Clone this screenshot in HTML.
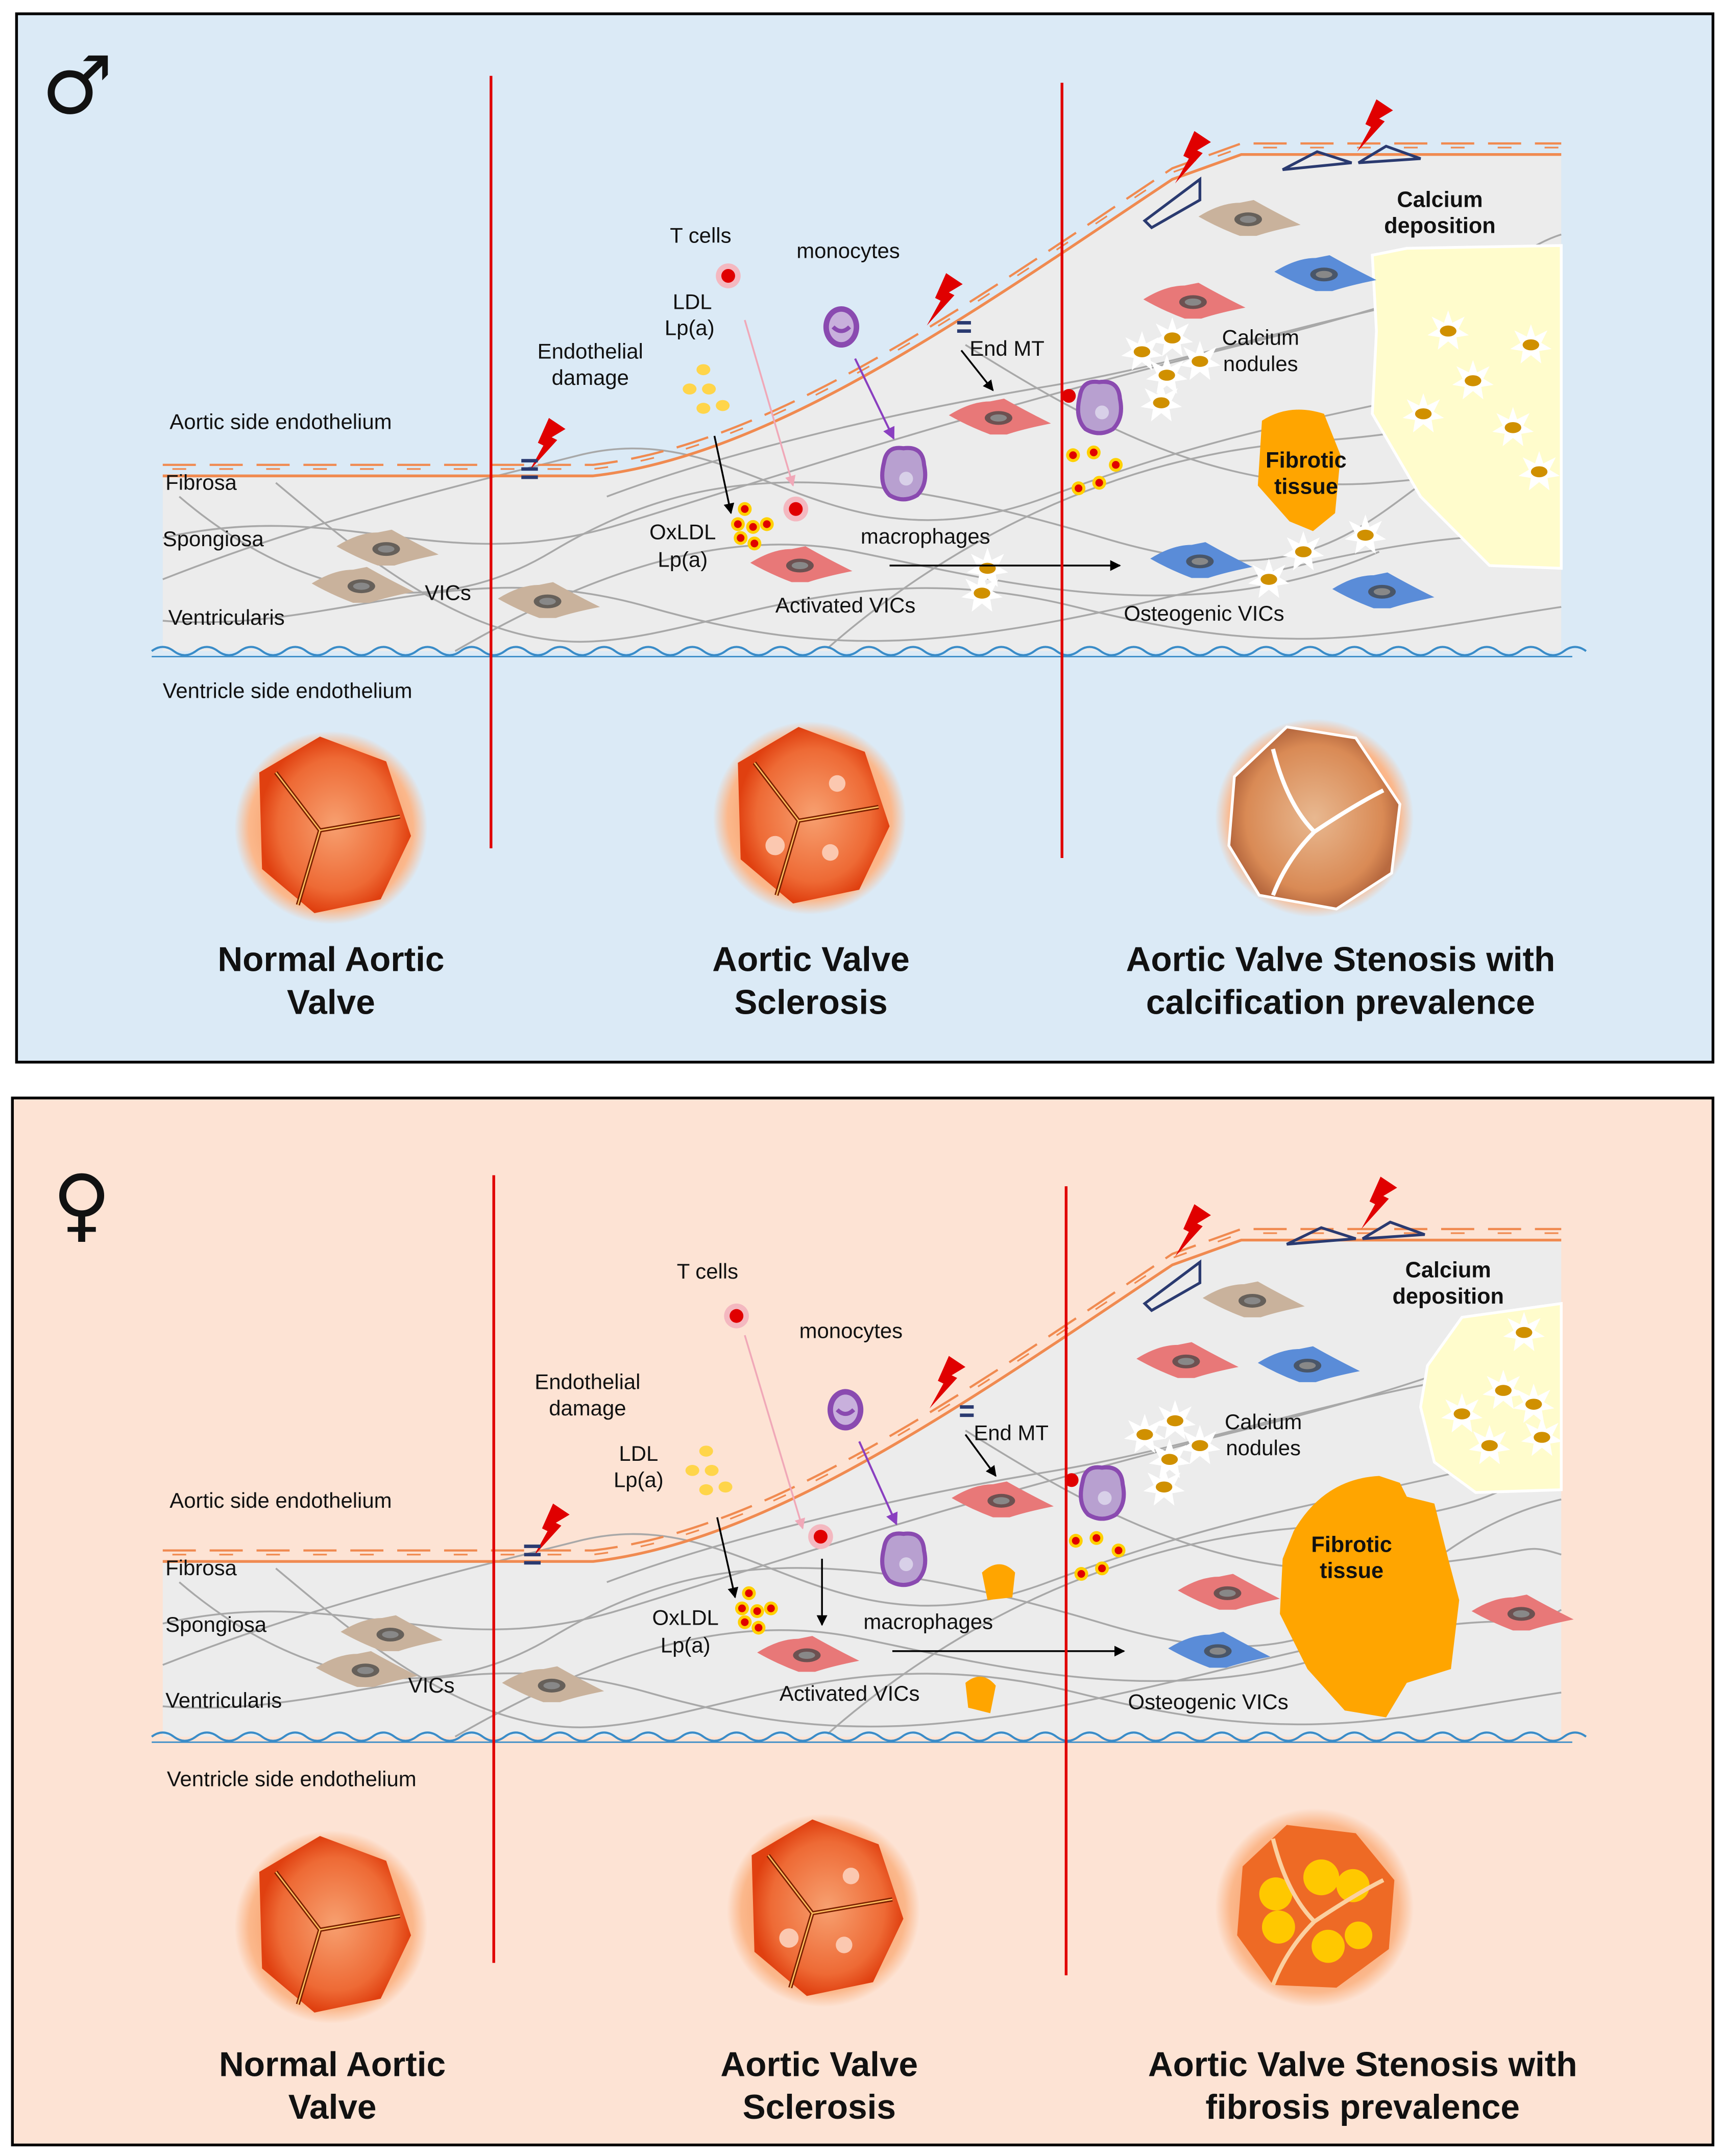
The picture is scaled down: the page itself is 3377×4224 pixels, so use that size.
<!DOCTYPE html>
<html><head><meta charset="utf-8"><style>
html,body{margin:0;padding:0;background:#fff;overflow:hidden;width:3377px;height:4224px}
svg{display:block}
text{font-family:"Liberation Sans",sans-serif;fill:#111}
.t{font-size:15.5px}
.b{font-size:16px;font-weight:bold}
.h{font-size:25px;font-weight:bold;text-anchor:middle}
.m{text-anchor:middle}
</style></head><body>
<svg width="3377" height="4224" viewBox="0 0 1250 1563" preserveAspectRatio="none" xmlns="http://www.w3.org/2000/svg">
<defs>
<radialGradient id="glow"><stop offset="0.6" stop-color="#f9a36f"/><stop offset="0.85" stop-color="#fbb88c"/><stop offset="1" stop-color="#fbb88c" stop-opacity="0"/></radialGradient>
<radialGradient id="vv"><stop offset="0" stop-color="#f7a070"/><stop offset="0.75" stop-color="#ee6a35"/><stop offset="1" stop-color="#e04010"/></radialGradient>
<radialGradient id="vs"><stop offset="0" stop-color="#e8b890"/><stop offset="0.8" stop-color="#d98a55"/><stop offset="1" stop-color="#b86a40"/></radialGradient>
<symbol id="cell" viewBox="-40 -14 80 28" overflow="visible"><path d="M-36,-2 Q-20,-12 -6,-12 L4,-14 Q18,-6 38,4 Q18,8 6,12 L-6,12 Q-22,6 -36,-2 Z"/><ellipse cx="0" cy="0" rx="10" ry="5" fill="#444" opacity="0.75"/><ellipse cx="0" cy="0" rx="6" ry="2.6" fill="#888"/></symbol>
<g id="tissue">
<path d="M118,345 L430,345 C560,330 700,230 850,130 L900,112 L1132,112 L1132,472 L118,472 Z" fill="#ececec"/>
<g fill="none" stroke="#a8a8a8" stroke-width="1.3">
<path d="M118,390 C250,360 320,420 450,380 S700,300 900,250 S1100,180 1132,170"/>
<path d="M118,420 C220,380 300,360 420,330 S600,420 760,360 S1000,300 1132,260"/>
<path d="M130,360 C200,420 300,460 400,400 S600,330 800,390 S1000,330 1132,300"/>
<path d="M118,450 C240,460 330,400 470,440 S700,470 900,420 S1100,400 1132,380"/>
<path d="M200,350 C260,400 340,470 430,465 S620,400 780,440 S1000,460 1132,440"/>
<path d="M440,360 C520,330 640,300 760,280 S980,220 1132,200"/>
<path d="M600,470 C680,400 800,330 950,320 S1100,280 1132,270"/>
<path d="M330,472 C420,420 520,380 620,400 S860,460 1000,400"/>
<path d="M700,250 C780,300 880,360 1000,350 S1100,330 1132,340"/>
</g>
<path d="M118,345 L430,345 C560,330 700,230 850,130 L900,112 L1132,112" fill="none" stroke="#f08a50" stroke-width="2"/>
<path d="M118,337 L430,337 C560,322 700,222 850,122 L900,104 L1132,104" fill="none" stroke="#f08a50" stroke-width="1.6" stroke-dasharray="24 10"/>
<path d="M118,340 L430,340 C560,325 700,225 850,125 L900,107 L1132,107" fill="none" stroke="#f08a50" stroke-width="1.2" stroke-dasharray="10 24" stroke-dashoffset="-7"/>
<path d="M110,472 q8,-6 16,0 t16,0 t16,0 t16,0 t16,0 t16,0 t16,0 t16,0 t16,0 t16,0 t16,0 t16,0 t16,0 t16,0 t16,0 t16,0 t16,0 t16,0 t16,0 t16,0 t16,0 t16,0 t16,0 t16,0 t16,0 t16,0 t16,0 t16,0 t16,0 t16,0 t16,0 t16,0 t16,0 t16,0 t16,0 t16,0 t16,0 t16,0 t16,0 t16,0 t16,0 t16,0 t16,0 t16,0 t16,0 t16,0 t16,0 t16,0 t16,0 t16,0 t16,0 t16,0 t16,0 t16,0 t16,0 t16,0 t16,0 t16,0 t16,0 t16,0 t16,0 t16,0 t16,0 t16,0 t16,0" fill="none" stroke="#3a8cc8" stroke-width="1.5"/>
<path d="M110,476 L1140,476" stroke="#3a8cc8" stroke-width="1"/>
</g>
<symbol id="bolt" viewBox="0 0 30 40" overflow="visible"><path d="M18,0 L30,8 L20,14 L24,16 L4,38 L14,20 L10,18 Z" fill="#e00000"/></symbol>
<g id="star"><path transform="scale(1.5)" d="M0,-10 L2,-4 L8,-7 L5,-1 L10,2 L4,3 L5,9 L0,5 L-5,9 L-4,3 L-10,2 L-5,-1 L-8,-7 L-2,-4 Z" fill="#fff"/><ellipse rx="6" ry="4" fill="#d09000"/></g>
<marker id="ah" viewBox="0 0 10 10" refX="9" refY="5" markerWidth="6" markerHeight="6" orient="auto"><path d="M0,0 L10,5 L0,10 Z" fill="#000"/></marker>
<marker id="ap" viewBox="0 0 10 10" refX="9" refY="5" markerWidth="6" markerHeight="6" orient="auto"><path d="M0,0 L10,5 L0,10 Z" fill="#8a3fc0"/></marker>
<marker id="ak" viewBox="0 0 10 10" refX="9" refY="5" markerWidth="6" markerHeight="6" orient="auto"><path d="M0,0 L10,5 L0,10 Z" fill="#f0a8b8"/></marker>
<g id="valveN"><circle r="70" fill="url(#glow)"/><path d="M-52,-40 L-8,-66 L40,-48 L58,6 L36,52 L-12,62 L-50,30 Z" fill="url(#vv)"/><path d="M-40,-40 L-8,2 L50,-8 M-8,2 L-24,56" stroke="#7a2000" stroke-width="3" fill="none"/><path d="M-40,-40 L-8,2 L50,-8 M-8,2 L-24,56" stroke="#ffc060" stroke-width="1" fill="none"/></g>
<g id="lipo"><circle r="5" fill="#ffd000"/><circle r="2.8" fill="#e00000"/></g>
<g id="mono"><ellipse rx="13" ry="15" fill="#8a4ab0"/><ellipse rx="9" ry="11" fill="#c8b0dc"/><path d="M-6,0 q6,6 12,0" stroke="#8a4ab0" stroke-width="3" fill="none"/></g>
<g id="macro"><path d="M-14,-8 Q-12,-20 0,-18 Q14,-20 15,-6 Q18,8 10,16 Q0,22 -10,16 Q-18,8 -14,-8Z" fill="#b8a0d0" stroke="#8a4ab0" stroke-width="3"/><circle cx="2" cy="4" r="5" fill="#d8d0e8"/></g>
<g id="tcell"><circle r="9" fill="#f4b8c0"/><circle r="5" fill="#e00000"/></g>
<g id="ldl"><ellipse cx="0" cy="0" rx="5" ry="4" fill="#ffd54a"/><ellipse cx="-10" cy="14" rx="5" ry="4" fill="#ffd54a"/><ellipse cx="4" cy="14" rx="5" ry="4" fill="#ffd54a"/><ellipse cx="0" cy="28" rx="5" ry="4" fill="#ffd54a"/><ellipse cx="14" cy="26" rx="5" ry="4" fill="#ffd54a"/></g>
</defs>

<!-- TOP PANEL -->
<rect x="12" y="10" width="1230" height="760" fill="#dbeaf6" stroke="#000" stroke-width="2"/>
<text x="30" y="82" style="font-size:58px;font-family:'DejaVu Sans',sans-serif">♂</text>
<use href="#tissue"/>
<path d="M995,185 L1020,180 L1132,178 L1132,412 L1080,410 L1030,360 L995,300 L998,240 Z" fill="#fffccc" stroke="#fff" stroke-width="2"/>
<use href="#star" x="1050" y="240"/><use href="#star" x="1110" y="250"/><use href="#star" x="1068" y="276"/><use href="#star" x="1032" y="300"/><use href="#star" x="1097" y="310"/><use href="#star" x="1116" y="342"/>
<path d="M915,305 Q935,292 960,300 L972,330 L968,372 L952,385 L935,378 L912,352 Z" fill="#ffa500"/>
<text class="b m" x="947" y="339">Fibrotic</text><text class="b m" x="947" y="358">tissue</text>
<use href="#star" x="828" y="255"/><use href="#star" x="850" y="245"/><use href="#star" x="846" y="272"/><use href="#star" x="842" y="292"/><use href="#star" x="870" y="262"/><use href="#star" x="716" y="412"/><use href="#star" x="712" y="430"/><use href="#star" x="945" y="400"/><use href="#star" x="990" y="388"/><use href="#star" x="920" y="420"/>
<use href="#cell" x="240" y="384" width="80" height="28" fill="#c9b29c"/>
<use href="#cell" x="222" y="411" width="80" height="28" fill="#c9b29c"/>
<use href="#cell" x="357" y="422" width="80" height="28" fill="#c9b29c"/>
<use href="#cell" x="865" y="145" width="80" height="28" fill="#c9b29c"/>
<use href="#cell" x="540" y="396" width="80" height="28" fill="#e87878"/>
<use href="#cell" x="684" y="289" width="80" height="28" fill="#e87878"/>
<use href="#cell" x="825" y="205" width="80" height="28" fill="#e87878"/>
<use href="#cell" x="920" y="185" width="80" height="28" fill="#5a8cd8"/>
<use href="#cell" x="830" y="393" width="80" height="28" fill="#5a8cd8"/>
<use href="#cell" x="962" y="415" width="80" height="28" fill="#5a8cd8"/>
<use href="#bolt" x="380" y="303" width="30" height="40"/>
<use href="#bolt" x="668" y="198" width="30" height="40"/>
<use href="#bolt" x="848" y="95" width="30" height="40"/>
<use href="#bolt" x="980" y="72" width="30" height="40"/>
<path d="M378,334 h12 M378,340 h12 M378,346 h12 M694,234 h10 M694,240 h10" stroke="#2a3a70" stroke-width="2.5"/>
<path d="M830,160 L870,130 L870,145 L835,165 Z M930,123 L955,110 L980,118 Z M985,118 L1005,106 L1030,115 Z" fill="none" stroke="#2a3a70" stroke-width="2"/>
<use href="#tcell" x="528" y="200"/><use href="#tcell" x="577" y="369"/>
<use href="#ldl" x="510" y="268"/>
<use href="#mono" x="610" y="237"/>
<use href="#macro" x="655" y="343"/><use href="#macro" x="797" y="295"/>
<circle cx="775" cy="287" r="5" fill="#e00000"/>
<use href="#lipo" x="540" y="369"/><use href="#lipo" x="535" y="380"/><use href="#lipo" x="546" y="382"/><use href="#lipo" x="556" y="380"/><use href="#lipo" x="537" y="390"/><use href="#lipo" x="547" y="394"/>
<use href="#lipo" x="778" y="330"/><use href="#lipo" x="793" y="328"/><use href="#lipo" x="809" y="337"/><use href="#lipo" x="782" y="354"/><use href="#lipo" x="797" y="350"/>
<path d="M518,316 L530,372" stroke="#000" stroke-width="1.3" marker-end="url(#ah)"/>
<path d="M540,232 L575,352" stroke="#f0a8b8" stroke-width="1.3" marker-end="url(#ak)"/>
<path d="M620,260 L648,318" stroke="#8a3fc0" stroke-width="1.5" marker-end="url(#ap)"/>
<path d="M697,254 L720,283" stroke="#000" stroke-width="1.3" marker-end="url(#ah)"/>
<path d="M645,410 L812,410" stroke="#000" stroke-width="1.3" marker-end="url(#ah)"/>
<text class="t" x="123" y="311">Aortic side endothelium</text>
<text class="t" x="120" y="355">Fibrosa</text>
<text class="t" x="118" y="396">Spongiosa</text>
<text class="t" x="122" y="453">Ventricularis</text>
<text class="t" x="308" y="435">VICs</text>
<text class="t" x="118" y="506">Ventricle side endothelium</text>
<text class="t m" x="428" y="260">Endothelial</text><text class="t m" x="428" y="279">damage</text>
<text class="t m" x="508" y="176">T cells</text>
<text class="t m" x="502" y="224">LDL</text><text class="t m" x="500" y="243">Lp(a)</text>
<text class="t m" x="615" y="187">monocytes</text>
<text class="t" x="703" y="258">End MT</text>
<text class="b m" x="1044" y="150">Calcium</text><text class="b m" x="1044" y="169">deposition</text>
<text class="t m" x="914" y="250">Calcium</text><text class="t m" x="914" y="269">nodules</text>
<text class="t m" x="495" y="391">OxLDL</text><text class="t m" x="495" y="411">Lp(a)</text>
<text class="t m" x="671" y="394">macrophages</text>
<text class="t m" x="613" y="444">Activated VICs</text>
<text class="t m" x="873" y="450">Osteogenic VICs</text>
<line x1="356" y1="55" x2="356" y2="615" stroke="#e00000" stroke-width="2"/>
<line x1="770" y1="60" x2="770" y2="622" stroke="#e00000" stroke-width="2"/>
<use href="#valveN" transform="translate(240,600)"/>
<g transform="translate(587,593)"><use href="#valveN"/><circle cx="20" cy="-25" r="6" fill="#fbc8b0"/><circle cx="-25" cy="20" r="7" fill="#fbc8b0"/><circle cx="15" cy="25" r="6" fill="#fbc8b0"/></g>
<g transform="translate(953,593)"><circle r="72" fill="url(#glow)"/><path d="M-58,-30 L-20,-66 L30,-58 L62,-10 L56,40 L16,66 L-40,56 L-62,20 Z" fill="url(#vs)" stroke="#fff" stroke-width="2"/><path d="M-30,-50 Q-20,-10 0,10 Q30,-10 50,-20 M0,10 Q-20,30 -30,56" stroke="#fff" stroke-width="3" fill="none"/></g>
<text class="h" x="240" y="704">Normal Aortic</text><text class="h" x="240" y="735">Valve</text>
<text class="h" x="588" y="704">Aortic Valve</text><text class="h" x="588" y="735">Sclerosis</text>
<text class="h" x="972" y="704">Aortic Valve Stenosis with</text><text class="h" x="972" y="735">calcification prevalence</text>

<!-- BOTTOM PANEL -->
<rect x="9" y="796" width="1233" height="759" fill="#fde3d4" stroke="#000" stroke-width="2"/>
<text x="38" y="893" style="font-size:58px;font-family:'DejaVu Sans',sans-serif">♀</text>
<use href="#tissue" transform="translate(0,787)"/>
<path d="M1035,990 L1060,955 L1132,945 L1132,1080 L1070,1082 L1040,1060 L1030,1020 Z" fill="#fffccc" stroke="#fff" stroke-width="2"/>
<use href="#star" x="1105" y="966"/><use href="#star" x="1090" y="1008"/><use href="#star" x="1112" y="1018"/><use href="#star" x="1060" y="1025"/><use href="#star" x="1080" y="1048"/><use href="#star" x="1118" y="1042"/>
<path d="M938,1110 Q960,1072 1000,1070 L1015,1075 L1020,1085 L1040,1090 L1050,1130 L1058,1160 L1052,1210 L1020,1220 L1005,1245 L975,1240 L948,1210 L928,1170 L930,1130 Z" fill="#ffa500"/>
<text class="b m" x="980" y="1125">Fibrotic</text><text class="b m" x="980" y="1144">tissue</text>
<path d="M712,1140 Q725,1128 736,1140 L734,1158 L716,1160 Z M700,1220 Q712,1210 722,1222 L718,1242 L702,1238 Z" fill="#ffa500"/>
<use href="#star" x="830" y="1040"/><use href="#star" x="852" y="1030"/><use href="#star" x="848" y="1058"/><use href="#star" x="844" y="1078"/><use href="#star" x="870" y="1048"/>
<use href="#cell" x="243" y="1171" width="80" height="28" fill="#c9b29c"/>
<use href="#cell" x="225" y="1197" width="80" height="28" fill="#c9b29c"/>
<use href="#cell" x="360" y="1208" width="80" height="28" fill="#c9b29c"/>
<use href="#cell" x="868" y="929" width="80" height="28" fill="#c9b29c"/>
<use href="#cell" x="545" y="1186" width="80" height="28" fill="#e87878"/>
<use href="#cell" x="686" y="1074" width="80" height="28" fill="#e87878"/>
<use href="#cell" x="820" y="973" width="80" height="28" fill="#e87878"/>
<use href="#cell" x="850" y="1141" width="80" height="28" fill="#e87878"/>
<use href="#cell" x="1063" y="1156" width="80" height="28" fill="#e87878"/>
<use href="#cell" x="908" y="976" width="80" height="28" fill="#5a8cd8"/>
<use href="#cell" x="843" y="1183" width="80" height="28" fill="#5a8cd8"/>
<use href="#bolt" x="383" y="1090" width="30" height="40"/>
<use href="#bolt" x="670" y="983" width="30" height="40"/>
<use href="#bolt" x="848" y="873" width="30" height="40"/>
<use href="#bolt" x="983" y="853" width="30" height="40"/>
<path d="M380,1121 h12 M380,1127 h12 M380,1133 h12 M696,1020 h10 M696,1026 h10" stroke="#2a3a70" stroke-width="2.5"/>
<path d="M830,945 L870,915 L870,930 L835,950 Z M933,902 L958,890 L983,898 Z M988,898 L1008,886 L1033,895 Z" fill="none" stroke="#2a3a70" stroke-width="2"/>
<use href="#tcell" x="534" y="954"/><use href="#tcell" x="595" y="1114"/>
<use href="#ldl" x="512" y="1052"/>
<use href="#mono" x="613" y="1022"/>
<use href="#macro" x="655" y="1130"/><use href="#macro" x="799" y="1082"/>
<circle cx="777" cy="1073" r="5" fill="#e00000"/>
<use href="#lipo" x="543" y="1155"/><use href="#lipo" x="538" y="1166"/><use href="#lipo" x="549" y="1168"/><use href="#lipo" x="559" y="1166"/><use href="#lipo" x="540" y="1176"/><use href="#lipo" x="550" y="1180"/>
<use href="#lipo" x="780" y="1117"/><use href="#lipo" x="795" y="1115"/><use href="#lipo" x="811" y="1124"/><use href="#lipo" x="784" y="1141"/><use href="#lipo" x="799" y="1137"/>
<path d="M520,1100 L533,1158" stroke="#000" stroke-width="1.3" marker-end="url(#ah)"/>
<path d="M540,968 L582,1108" stroke="#f0a8b8" stroke-width="1.3" marker-end="url(#ak)"/>
<path d="M596,1130 L596,1178" stroke="#000" stroke-width="1.3" marker-end="url(#ah)"/>
<path d="M623,1045 L650,1105" stroke="#8a3fc0" stroke-width="1.5" marker-end="url(#ap)"/>
<path d="M700,1040 L722,1070" stroke="#000" stroke-width="1.3" marker-end="url(#ah)"/>
<path d="M647,1197 L815,1197" stroke="#000" stroke-width="1.3" marker-end="url(#ah)"/>
<text class="t" x="123" y="1093">Aortic side endothelium</text>
<text class="t" x="120" y="1142">Fibrosa</text>
<text class="t" x="120" y="1183">Spongiosa</text>
<text class="t" x="120" y="1238">Ventricularis</text>
<text class="t" x="296" y="1227">VICs</text>
<text class="t" x="121" y="1295">Ventricle side endothelium</text>
<text class="t m" x="426" y="1007">Endothelial</text><text class="t m" x="426" y="1026">damage</text>
<text class="t m" x="513" y="927">T cells</text>
<text class="t m" x="463" y="1059">LDL</text><text class="t m" x="463" y="1078">Lp(a)</text>
<text class="t m" x="617" y="970">monocytes</text>
<text class="t" x="706" y="1044">End MT</text>
<text class="b m" x="1050" y="926">Calcium</text><text class="b m" x="1050" y="945">deposition</text>
<text class="t m" x="916" y="1036">Calcium</text><text class="t m" x="916" y="1055">nodules</text>
<text class="t m" x="497" y="1178">OxLDL</text><text class="t m" x="497" y="1198">Lp(a)</text>
<text class="t m" x="673" y="1181">macrophages</text>
<text class="t m" x="616" y="1233">Activated VICs</text>
<text class="t m" x="876" y="1239">Osteogenic VICs</text>
<line x1="358" y1="852" x2="358" y2="1423" stroke="#e00000" stroke-width="2"/>
<line x1="773" y1="860" x2="773" y2="1432" stroke="#e00000" stroke-width="2"/>
<use href="#valveN" transform="translate(240,1397)"/>
<g transform="translate(597,1385)"><use href="#valveN"/><circle cx="20" cy="-25" r="6" fill="#fbc8b0"/><circle cx="-25" cy="20" r="7" fill="#fbc8b0"/><circle cx="15" cy="25" r="6" fill="#fbc8b0"/></g>
<g transform="translate(953,1383)"><circle r="72" fill="url(#glow)"/><path d="M-52,-30 L-20,-60 L30,-54 L58,-20 L54,30 L16,58 L-30,56 L-56,20 Z" fill="#ee6a25"/><circle cx="-28" cy="-10" r="12" fill="#ffc800"/><circle cx="-26" cy="14" r="12" fill="#ffc800"/><circle cx="5" cy="-22" r="13" fill="#ffc800"/><circle cx="28" cy="-16" r="12" fill="#ffc800"/><circle cx="10" cy="28" r="12" fill="#ffc800"/><circle cx="32" cy="20" r="10" fill="#ffc800"/><path d="M-30,-50 Q-20,-10 0,10 Q30,-10 50,-20 M0,10 Q-20,30 -30,56" stroke="#fbd0a0" stroke-width="3" fill="none"/></g>
<text class="h" x="241" y="1505">Normal Aortic</text><text class="h" x="241" y="1536">Valve</text>
<text class="h" x="594" y="1505">Aortic Valve</text><text class="h" x="594" y="1536">Sclerosis</text>
<text class="h" x="988" y="1505">Aortic Valve Stenosis with</text><text class="h" x="988" y="1536">fibrosis prevalence</text>
</svg>
</body></html>
